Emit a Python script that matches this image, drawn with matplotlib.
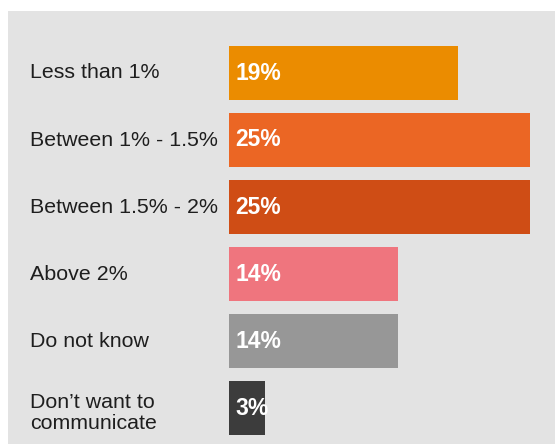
import matplotlib.pyplot as plt
from matplotlib.patches import Rectangle
from matplotlib.transforms import blended_transform_factory

categories = ["Less than 1%", "Between 1% - 1.5%", "Between 1.5% - 2%",
              "Above 2%", "Do not know", "Don\u2019t want to\ncommunicate"]
shares = [19, 25, 25, 14, 14, 3]
colors = ["#EB8C00", "#EB6624", "#CF4D15", "#EF757E", "#979797", "#3C3C3C"]

W, H = 555, 444
fig = plt.figure(figsize=(W / 100, H / 100), dpi=100)
fig.patch.set_facecolor("white")

# grey panel behind everything
fig.patches.append(Rectangle((8 / W, 0), (W - 8) / W, (H - 11) / H,
                             transform=fig.transFigure, facecolor="#E3E3E3",
                             edgecolor="none", zorder=-5))

# bar area starts at x=229px, 12.04px per percentage point
ax = fig.add_axes([229 / W, 0, (W - 229) / W, (H - 11) / H])
ax.patch.set_alpha(0)
ax.set_zorder(1)
ax.set_xlim(0, (W - 229) / 12.04)
pitch = 67
ax.set_ylim((444 - 73) / pitch, (11 - 73) / pitch)

ypos = list(range(len(categories)))
ax.barh(ypos, shares, height=54 / pitch, color=colors, edgecolor="none")

for y, v in zip(ypos, shares):
    ax.text(0.5, y, f"{v}%", color="white", fontsize=16.5, fontweight="bold",
            family="Liberation Sans", va="center", ha="left")

trans = blended_transform_factory(fig.transFigure, ax.transData)
for y, lab in zip(ypos, categories):
    ax.text(30 / W, y + (0.07 if "\n" in lab else 0), lab, transform=trans,
            color="#1E1E1E", fontsize=15.4, family="Liberation Sans",
            va="center", ha="left", linespacing=1.15, clip_on=False)

ax.axis("off")
fig.savefig("out.png", dpi=100)
